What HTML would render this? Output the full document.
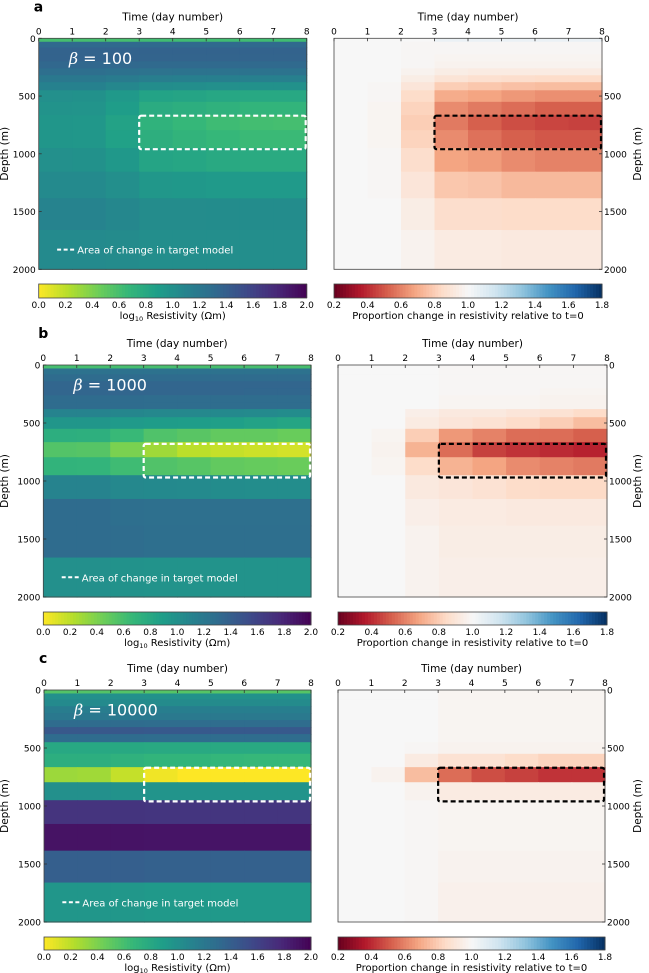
<!DOCTYPE html>
<html><head><meta charset="utf-8"><style>
html,body{margin:0;padding:0;background:#fff;}
svg{display:block;font-family:"DejaVu Sans","Liberation Sans",sans-serif;}
</style></head><body>
<svg id="fig" width="649" height="973" viewBox="0 0 649 973" xmlns="http://www.w3.org/2000/svg"></svg>
<script>
// ---- data ----
const depthEdges = [0,30,80,140,200,260,320,380,450,550,665,795,950,1155,1385,1660,2000];
const days = [0,1,2,3,4,5,6,7];
const betaLabels = ["100","1000","10000"];
const baseA = [0.6,1.32,1.37,1.37,1.33,1.27,1.2,1.12,1.0,0.98,0.95,0.95,1.0,1.05,1.1,1.05];
const ratioA = [
[1,1,1,1.05,1.05,1.05,1.05,1.05],
[1,1,0.99,0.99,0.99,0.99,0.99,0.99],
[1,1,0.99,0.99,0.99,0.99,0.99,0.99],
[1,1,0.99,0.98,0.98,0.98,0.98,0.98],
[1,1,0.99,0.97,0.97,0.97,0.97,0.97],
[1,1,0.97,0.94,0.93,0.93,0.93,0.93],
[1,1,0.94,0.89,0.87,0.86,0.85,0.85],
[1,0.99,0.9,0.8,0.78,0.76,0.75,0.75],
[1,0.99,0.85,0.7,0.68,0.65,0.63,0.63],
[1,0.98,0.82,0.62,0.58,0.55,0.52,0.52],
[1,0.98,0.8,0.58,0.52,0.48,0.46,0.45],
[1,0.98,0.82,0.62,0.56,0.52,0.5,0.5],
[1,0.99,0.86,0.68,0.66,0.62,0.6,0.6],
[1,0.99,0.9,0.78,0.77,0.74,0.74,0.74],
[1,1,0.94,0.86,0.86,0.85,0.85,0.85],
[1,1,0.97,0.93,0.93,0.92,0.92,0.92]];
const baseB = [0.6,1.25,1.3,1.35,1.35,1.3,1.3,1.1,0.95,0.75,0.55,0.7,1.1,1.3,1.3,1.0];
const ratioB = [
[1,1,1,0.99,0.99,0.99,0.99,0.99],
[1,1,1,0.99,0.99,0.99,0.99,0.99],
[1,1,1,0.99,0.99,0.99,0.99,0.99],
[1,1,1,0.99,0.99,0.99,0.99,0.99],
[1,1,1,0.99,0.99,0.99,0.98,0.98],
[1,1,1,0.98,0.98,0.98,0.97,0.97],
[1,1,1,0.98,0.98,0.98,0.97,0.97],
[1,1,0.95,0.92,0.92,0.9,0.88,0.85],
[1,1,0.93,0.9,0.88,0.85,0.8,0.75],
[1,0.98,0.8,0.65,0.6,0.55,0.55,0.52],
[1,0.97,0.72,0.55,0.45,0.42,0.4,0.38],
[1,0.98,0.85,0.72,0.68,0.62,0.6,0.58],
[1,1,0.92,0.9,0.88,0.85,0.84,0.84],
[1,1,0.95,0.93,0.93,0.92,0.92,0.92],
[1,1,0.97,0.94,0.94,0.94,0.94,0.94],
[1,1,0.97,0.95,0.95,0.95,0.95,0.95]];
const baseC = [0.55,1.0,1.05,1.15,1.2,1.3,1.45,1.3,0.8,0.75,0.3,1.0,1.7,1.9,1.4,0.95];
const ratioC = [
[1,1,1,0.98,0.98,0.98,0.98,0.98],
[1,1,1,0.98,0.98,0.98,0.98,0.98],
[1,1,1,0.98,0.98,0.98,0.98,0.98],
[1,1,1,0.98,0.98,0.98,0.98,0.98],
[1,1,1,0.98,0.98,0.98,0.98,0.98],
[1,1,1,0.98,0.98,0.98,0.98,0.98],
[1,1,1,0.98,0.98,0.98,0.98,0.98],
[1,1,1,0.98,0.98,0.98,0.98,0.98],
[1,1,0.99,0.97,0.97,0.97,0.97,0.97],
[1,1,0.93,0.88,0.88,0.85,0.82,0.82],
[1,0.97,0.75,0.55,0.48,0.45,0.42,0.42],
[1,1,0.97,0.93,0.93,0.93,0.93,0.93],
[1,1,0.99,0.98,0.98,0.98,0.98,0.98],
[1,1,0.99,0.98,0.98,0.98,0.98,0.98],
[1,1,0.99,0.97,0.97,0.97,0.97,0.97],
[1,1,0.99,0.96,0.96,0.96,0.96,0.96]];
const xTicks = [0,1,2,3,4,5,6,7,8];
const yTicks = [0,500,1000,1500,2000];
const resTicks = ["0.0","0.2","0.4","0.6","0.8","1.0","1.2","1.4","1.6","1.8","2.0"];
const ratioTicks = ["0.2","0.4","0.6","0.8","1.0","1.2","1.4","1.6","1.8"];
const targetBox = [[3,8,670,960],[3,8,680,970],[3,8,670,960]];

// ---- colormaps ----
const VIR = ["#440154","#482878","#3e4989","#31688e","#26828e","#1f9e89","#35b779","#6ece58","#b5de2b","#fde725"];
const RDBU = ["#67001f","#b2182b","#d6604d","#f4a582","#fddbc7","#f7f7f7","#d1e5f0","#92c5de","#4393c3","#2166ac","#053061"];
function hex(h){return [1,3,5].map(i=>parseInt(h.substr(i,2),16));}
function interp(stops,t){t=Math.max(0,Math.min(1,t));const n=stops.length-1;const i=Math.min(n-1,Math.floor(t*n));const f=t*n-i;const a=hex(stops[i]),b=hex(stops[i+1]);return "rgb("+a.map((v,k)=>Math.round(v+(b[k]-v)*f)).join(",")+")";}
const vir = v => interp(VIR, 1 - v/2);
const rdbu = r => interp(RDBU, (r-0.2)/1.6);

const NS="http://www.w3.org/2000/svg";
const svg=document.getElementById('fig');
function el(tag,attrs,parent,text){const e=document.createElementNS(NS,tag);for(const k in attrs)e.setAttribute(k,attrs[k]);if(text!==undefined)e.textContent=text;(parent||svg).appendChild(e);return e;}

const panels=[
 {letter:"a",base:baseA,ratio:ratioA,L:[38.7,306.7,38.3,269.3],R:[334,602,38.3,269.3],cb:[284,298]},
 {letter:"b",base:baseB,ratio:ratioB,L:[43.3,311,365,597],R:[338,607,365,597],cb:[612,625]},
 {letter:"c",base:baseC,ratio:ratioC,L:[44,311,690,922],R:[338,605,690,922],cb:[937,950]}
];

panels.forEach((p,pi)=>{
 const g=el('g',{});
 
 
 ['L','R'].forEach(side=>{
  const [x0,x1,y0,y1]=p[side];
  const xs=d=>x0+(x1-x0)*d/8, ys=m=>y0+(y1-y0)*m/2000;
  const ax=el('g',{},g);
  
  
  for(let li=0;li<depthEdges.length-1;li++){
   for(let di=0;di<days.length;di++){
    const r=p.ratio[li][di];
    const c= side==='L' ? vir(p.base[li]+Math.log10(r)) : rdbu(r);
    const rc=el('rect',{x:xs(days[di]),y:ys(depthEdges[li]),width:xs(days[di]+1)-xs(days[di])+0.6,height:ys(depthEdges[li+1])-ys(depthEdges[li])+0.6,fill:c},ax);
    
    
   }
  }
  el('rect',{x:x0,y:y0,width:x1-x0,height:y1-y0,fill:'none',stroke:'#444','stroke-width':0.8},ax);
  const tb=targetBox[pi];
  const bx=el('rect',{x:xs(tb[0]),y:ys(tb[2]),width:xs(tb[1])-xs(tb[0])-1,height:ys(tb[3])-ys(tb[2]),fill:'none',stroke:side==='L'?'#fff':'#000','stroke-width':2.2,'stroke-dasharray':'5,3',rx:2},ax);
  
  
  xTicks.forEach(t=>{
   el('line',{x1:xs(t),x2:xs(t),y1:y0,y2:y0+3,stroke:'#333','stroke-width':0.8},ax);
   const tx=el('text',{x:xs(t),y:y0-4,'font-size':9,'text-anchor':'middle',fill:'#000'},ax,String(t));
   
   
  });
  const xt=el('text',{x:(x0+x1)/2,y:y0-18,'font-size':10.5,'text-anchor':'middle'},ax,'Time (day number)');
  
  
  yTicks.forEach(t=>{
   const yy=ys(t);
   if(side==='L'){
    el('line',{x1:x0,x2:x0+3,y1:yy,y2:yy,stroke:'#333','stroke-width':0.8},ax);
    const ty=el('text',{x:x0-3,y:yy+3.5,'font-size':9,'text-anchor':'end'},ax,String(t));
    
    
   } else {
    el('line',{x1:x1-3,x2:x1,y1:yy,y2:yy,stroke:'#333','stroke-width':0.8},ax);
    const ty=el('text',{x:x1+2,y:yy+3.5,'font-size':9,'text-anchor':'start'},ax,String(t));
    
    
   }
  });
  const yc=(y0+y1)/2, yx= side==='L'? 8 : 641;
  const yt=el('text',{x:yx,y:yc,'font-size':10.5,'text-anchor':'middle',transform:`rotate(-90 ${yx} ${yc})`},ax,'Depth (m)');
  
  
  if(side==='L'){
   const bt=el('text',{x:xs(0.9),y:ys(170)+6,'font-size':16,fill:'#fff'},ax);
   
   
   el('tspan',{'font-style':'italic','font-family':'"DejaVu Serif",serif'},bt,'β');
   el('tspan',{},bt,' = '+betaLabels[pi]);
   el('line',{x1:xs(0.55),x2:xs(1.1),y1:ys(1830),y2:ys(1830),stroke:'#fff','stroke-width':2,'stroke-dasharray':'4,2.5'},ax);
   const lt=el('text',{x:xs(1.15),y:ys(1830)+4,'font-size':10,fill:'#fff'},ax,'Area of change in target model');
   
   
  }
  const [cy0,cy1]=p.cb;
  const cbg=el('g',{},g);
  
  
  const N=90;
  for(let i=0;i<N;i++){
   const t=(i+0.5)/N;
   el('rect',{x:x0+(x1-x0)*i/N,y:cy0,width:(x1-x0)/N+0.5,height:cy1-cy0,fill: side==='L'?vir(t*2):rdbu(0.2+1.6*t)},cbg);
  }
  el('rect',{x:x0,y:cy0,width:x1-x0,height:cy1-cy0,fill:'none',stroke:'#444','stroke-width':0.8},cbg);
  const ticks= side==='L'?resTicks:ratioTicks;
  ticks.forEach((s,i)=>{
   const xx=x0+(x1-x0)*i/(ticks.length-1);
   el('text',{x:xx,y:cy1+10,'font-size':9,'text-anchor':'middle'},cbg,s);
  });
  const cl=el('text',{x:(x0+x1)/2,y:cy1+21,'font-size':10,'text-anchor':'middle'},cbg);
  if(side==='L'){cl.textContent='log';el('tspan',{'font-size':6.5,dy:2},cl,'10');el('tspan',{dy:-2},cl,' Resistivity (Ωm)');}
  else cl.textContent='Proportion change in resistivity relative to t=0';
 });
 const lt=el('text',{x:p.L[0]-5,y:p.L[2]-27,'font-size':14,'font-weight':'bold'},g,p.letter);
 
 
});
</script>
</body></html>
